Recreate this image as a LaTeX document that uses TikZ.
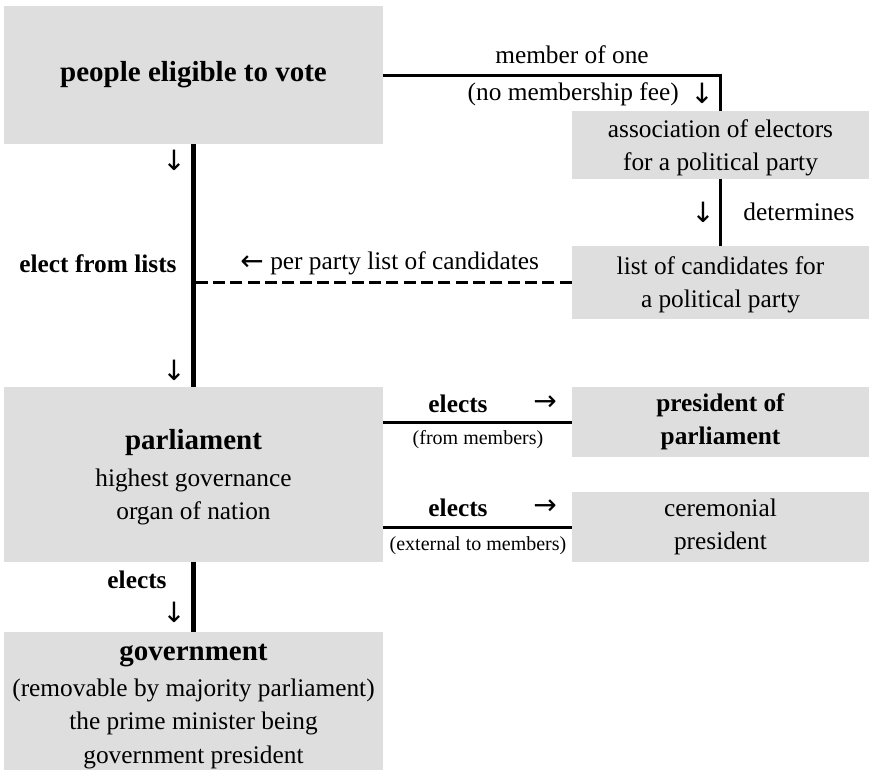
\documentclass[tikz,border=0pt]{standalone}
\usepackage{fontspec}
\setmainfont{Liberation Serif}
\newfontfamily\arrowfont{DejaVu Sans}
\usepackage{tikz}
\definecolor{boxgray}{RGB}{222,222,222}

\begin{document}
\begin{tikzpicture}[x=0.75pt, y=-0.75pt,
	box/.style={fill=boxgray, inner sep=0pt, align=center, font=\fontsize{19}{24.75}\selectfont},
	widebox/.style={box, minimum width=284.25pt},
	sidebox/.style={box, minimum width=222.75pt},
	lbl/.style={inner sep=0pt, font=\fontsize{19}{24}\selectfont},
	blbl/.style={lbl, font=\fontsize{19}{24}\selectfont\bfseries},
	slbl/.style={inner sep=0pt, font=\fontsize{15}{18}\selectfont},
	arr/.style={inner sep=0pt, font=\arrowfont\fontsize{21}{24}\selectfont},
	mainline/.style={line width=3.75pt},
	link/.style={line width=2.25pt}]

	\useasboundingbox (0,0) rectangle (869,769);

	\node [widebox, minimum height=103.5pt] (vote) at (193.5,75) {\fontsize{21.75}{26}\selectfont\bfseries people eligible to vote};
	\node [sidebox, minimum height=51pt, text depth=-1.9pt] (assoc) at (720.5,145) {association of electors\\for a political party};
	\node [sidebox, minimum height=54.75pt, text depth=0pt] (list) at (720.5,282.5) {list of candidates for\\a political party};
	\node [widebox, minimum height=131.25pt, text depth=0pt] (parl) at (193.5,474.5) {{\fontsize{21.75}{26}\selectfont\bfseries parliament}\\[3pt]highest governance\\organ of nation};
	\node [sidebox, minimum height=52.5pt, font=\fontsize{19}{24.75}\selectfont\bfseries] (pres) at (720.5,422) {president of\\parliament};
	\node [sidebox, minimum height=52.5pt] (cere) at (720.5,527) {ceremonial\\president};
	\node [widebox, minimum height=111.75pt] (gov) at (193.5,706.5) {{\fontsize{21.75}{26}\selectfont\bfseries government}\\[2pt](removable by majority parliament)\\[0.4pt]the prime minister being\\[0.4pt]government president};

	\draw [mainline] (vote.south) -- (parl.north);
	\draw [mainline] (parl.south) -- (gov.north);
	\draw [link] (vote.east) -| (assoc.north);
	\draw [link] (assoc.south) -- (list.north);
	\draw [link, dash pattern=on 9pt off 4pt] (list.west) -- (list.west -| vote.south);
	\draw [link] (pres.west -| parl.east) -- (pres.west);
	\draw [link] (cere.west -| parl.east) -- (cere.west);

	\node [lbl] (member) at (572,55) {member of one};
	\node [lbl, anchor=east] (nofee) at (679,94) {(no membership fee)};
	\node [arr] (feearrow) at (702,93) {↓};
	\node [arr] (detarrow) at (703,212) {↓};
	\node [lbl] (determines) at (799,212) {determines};
	\node [arr] (leftarrow) at (252,263) {←};
	\node [lbl, anchor=west] (perparty) at (270,263) {per party list of candidates};
	\node [arr] (votearrow) at (174,160) {↓};
	\node [blbl] (fromlists) at (98,264) {elect from lists};
	\node [arr] (parlarrow) at (174,370) {↓};
	\node [blbl] (elects1) at (458,404) {elects};
	\node [arr] (right1) at (545,403) {→};
	\node [slbl] (frommembers) at (478,440) {(from members)};
	\node [blbl] (elects2) at (458,508) {elects};
	\node [arr] (right2) at (545,507) {→};
	\node [slbl] (external) at (478,546) {(external to members)};
	\node [blbl] (elects3) at (137,580) {elects};
	\node [arr] (govarrow) at (174,612) {↓};
\end{tikzpicture}
\end{document}
